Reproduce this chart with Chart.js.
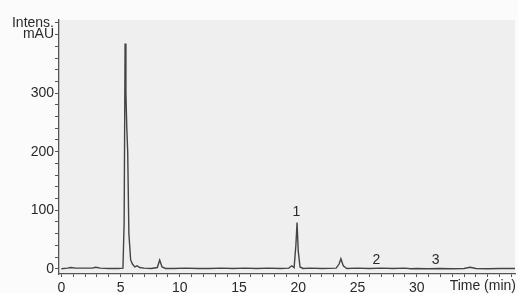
<!DOCTYPE html>
<html>
<head>
<meta charset="utf-8">
<script src="https://cdn.jsdelivr.net/npm/chart.js@4/dist/chart.umd.min.js"></script>
<style>
  html, body { margin: 0; padding: 0; background: #fbfbfb; }
  #wrap { width: 518px; height: 293px; }
</style>
</head>
<body>
<div id="wrap"><canvas id="myChart"></canvas></div>
<script>
// retention time (min) and absorbance (mAU)
const times = [0, 0.5, 0.8, 1.2, 2.0, 2.6, 2.9, 3.3, 4.0, 4.8, 5.2, 5.3, 5.38, 5.45, 5.52, 5.6, 5.7, 5.85, 6.0, 6.2, 6.4, 6.6, 7.0, 7.6, 8.1, 8.3, 8.5, 8.8, 9.5, 10.5, 11.5, 12.5, 13.5, 14.5, 15.5, 16.5, 17.5, 18.5, 19.2, 19.45, 19.65, 19.8, 19.9, 20.0, 20.15, 20.4, 21, 22, 23.2, 23.45, 23.6, 23.8, 24.1, 25, 26, 27, 28, 29, 29.5, 30, 31, 32, 33, 34, 34.5, 35, 36, 37, 38.3];
const signal = [0, 1, 2, 1, 1, 1, 2.5, 1, 0.5, 0.5, 1, 80, 385, 300, 243, 200, 60, 15, 8, 3, 5, 2, 1, 0.5, 2, 15, 3, 0.5, 0.5, 1, 0.5, 0.5, 1, 0.5, 1, 0.5, 1, 0.5, 1, 5, 2, 40, 79, 30, 3, 0.5, 1, 0.5, 1, 8, 17, 5, 0.5, 1, 0.5, 1, 0.5, 1, 0, 0.5, 0, 0.5, 0, 0.5, 2.5, 0.5, 0, 0.5, 0.5];
const yTicks = [0, 100, 200, 300];
const yUnitTicks = { 400: "mAU", 420: "Intens." };
const xTicks = [0, 5, 10, 15, 20, 25, 30];
const peakNames = ["1", "2", "3"];
const peakTimes = [19.85, 26.6, 31.6];
const peakLevels = [97, 15, 14];

const points = times.map((t, i) => ({ x: t, y: signal[i] }));
const labelFont = "'Liberation Sans', Arial, sans-serif";

const decor = {
  id: "decor",
  beforeDraw(chart) {
    const { ctx, chartArea: a } = chart;
    ctx.save();
    ctx.fillStyle = "#efefef";
    ctx.fillRect(a.left, a.top, a.right - a.left, a.bottom - a.top);
    ctx.restore();
  },
  afterDraw(chart) {
    const { ctx } = chart;
    const xs = chart.scales.x, ys = chart.scales.y;
    ctx.save();
    ctx.fillStyle = "#2a2a2a";
    ctx.font = "14px " + labelFont;
    ctx.textAlign = "center";
    ctx.textBaseline = "middle";
    peakNames.forEach((n, i) => {
      ctx.fillText(n, xs.getPixelForValue(peakTimes[i]), ys.getPixelForValue(peakLevels[i]));
    });
    ctx.textAlign = "right";
    ctx.textBaseline = "top";
    ctx.fillText("Time (min)", chart.chartArea.right + 1, chart.chartArea.bottom + 5);
    ctx.restore();
  }
};

new Chart("myChart", {
  type: "line",
  data: {
    datasets: [{
      data: points,
      borderColor: "#444",
      borderWidth: 1.4,
      pointRadius: 0,
      tension: 0,
      fill: false
    }]
  },
  options: {
    responsive: true,
    maintainAspectRatio: false,
    animation: false,
    layout: { padding: { top: 20, right: 3, left: 0, bottom: 0 } },
    plugins: { legend: { display: false }, tooltip: { enabled: false } },
    scales: {
      x: {
        type: "linear",
        min: -0.2,
        max: 38.3,
        afterBuildTicks(scale) {
          const t = [];
          for (let v = 0; v <= 38; v++) t.push({ value: v });
          scale.ticks = t;
        },
        afterFit(scale) { scale.height = 19; },
        border: { color: "#555", width: 1.3 },
        grid: { drawOnChartArea: false, tickLength: 3, color: "#555" },
        ticks: {
          autoSkip: false,
          maxRotation: 0,
          padding: 3,
          color: "#2a2a2a",
          font: { family: labelFont, size: 14 },
          callback: (v) => (xTicks.includes(v) ? String(v) : "")
        }
      },
      y: {
        min: -9,
        max: 425,
        afterBuildTicks(scale) {
          const t = [];
          for (let v = 0; v <= 420; v += 20) t.push({ value: v });
          scale.ticks = t;
        },
        afterFit(scale) { scale.width = 59; },
        border: { color: "#555", width: 1.3 },
        grid: { drawOnChartArea: false, tickLength: 4, color: "#555" },
        ticks: {
          autoSkip: false,
          padding: 1,
          color: "#2a2a2a",
          font: { family: labelFont, size: 14 },
          callback: (v) => (yUnitTicks[v] ? yUnitTicks[v] : yTicks.includes(v) ? String(v) : "")
        }
      }
    }
  },
  plugins: [decor]
});
</script>
</body>
</html>
